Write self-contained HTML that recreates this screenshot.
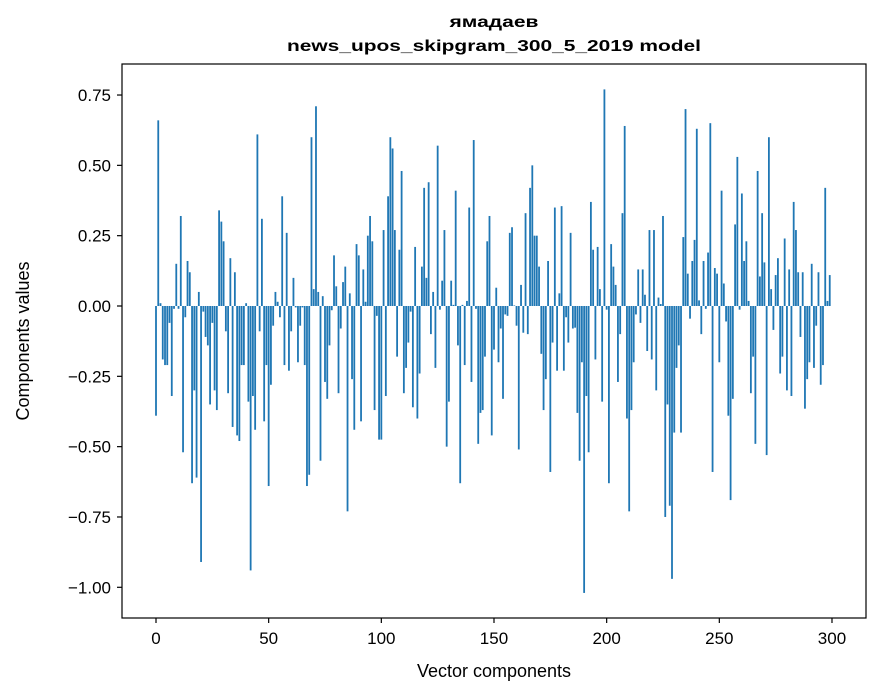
<!DOCTYPE html>
<html><head><meta charset="utf-8"><style>
html,body{margin:0;padding:0;background:#fff;}
svg{display:block;font-family:"Liberation Sans","DejaVu Sans",sans-serif;}
</style></head><body>
<svg id="chart" width="880" height="696" viewBox="0 0 880 696">
<g style="font-family:'Liberation Sans','DejaVu Sans',sans-serif">
<text x="494" y="27" text-anchor="middle" font-size="16" font-weight="bold" textLength="89" lengthAdjust="spacingAndGlyphs">ямадаев</text>
<text x="494" y="51" text-anchor="middle" font-size="16" font-weight="bold" textLength="414" lengthAdjust="spacingAndGlyphs">news_upos_skipgram_300_5_2019 model</text>
</g>
<g id="bars"></g>
<rect x="122" y="64" width="744" height="554" fill="none" stroke="#000" stroke-width="1.2"/>
<g id="xticks"></g>
<g id="yticks"></g>
<text x="494" y="677" text-anchor="middle" font-size="18">Vector components</text>
<text transform="translate(29,341) rotate(-90)" text-anchor="middle" font-size="18">Components values</text>
</svg>
<script>
const componentValues = [
-0.39,0.66,0.01,-0.19,-0.21,-0.21,-0.06,-0.32,-0.01,0.15,
-0.01,0.32,-0.52,-0.04,0.16,0.12,-0.63,-0.30,-0.61,0.05,
-0.91,-0.02,-0.11,-0.14,-0.35,-0.06,-0.30,-0.37,0.34,0.30,
0.23,-0.09,-0.31,0.17,-0.43,0.12,-0.46,-0.48,-0.21,-0.21,
0.01,-0.34,-0.94,-0.32,-0.44,0.61,-0.09,0.31,-0.41,-0.21,
-0.64,-0.28,-0.07,0.05,0.015,-0.04,0.39,-0.21,0.26,-0.23,
-0.09,0.10,-0.005,-0.20,-0.07,-0.005,-0.21,-0.64,-0.60,0.60,
0.06,0.71,0.05,-0.55,0.035,-0.27,-0.33,-0.14,-0.015,0.18,
0.07,-0.31,-0.08,0.085,0.14,-0.73,0.045,-0.26,-0.44,0.22,
0.18,-0.41,0.13,0.015,0.25,0.32,0.23,-0.37,-0.035,-0.475,
-0.475,0.27,-0.32,0.39,0.60,0.56,0.27,-0.18,0.20,0.48,
-0.31,-0.22,-0.13,-0.02,-0.36,0.21,-0.40,-0.24,0.14,0.42,
0.10,0.44,-0.10,0.05,-0.22,0.57,-0.013,0.09,0.27,-0.50,
-0.34,0.09,0.004,0.41,-0.14,-0.63,0.004,-0.21,0.018,0.35,
-0.27,0.59,-0.01,-0.49,-0.38,-0.37,-0.18,0.23,0.32,-0.46,
-0.155,0.065,-0.20,-0.08,-0.33,-0.03,-0.035,0.26,0.28,0.002,
-0.07,-0.51,0.075,-0.095,0.33,-0.10,0.42,0.50,0.25,0.25,
0.14,-0.17,-0.37,-0.26,0.16,-0.59,-0.13,0.35,-0.23,0.045,
0.355,-0.23,-0.04,-0.13,0.26,-0.08,-0.077,-0.38,-0.55,-0.20,
-1.02,-0.32,-0.52,0.37,0.20,-0.19,0.21,0.06,-0.34,0.77,
-0.013,-0.63,0.22,0.14,0.075,-0.27,-0.10,0.33,0.64,-0.40,
-0.73,-0.37,-0.20,-0.03,0.13,-0.06,0.13,0.04,-0.16,0.27,
-0.19,0.27,-0.30,0.03,0.007,0.32,-0.75,-0.35,-0.71,-0.97,
-0.45,-0.22,-0.14,-0.45,0.245,0.70,0.115,-0.045,0.16,0.235,
0.63,0.02,-0.10,0.16,-0.01,0.19,0.65,-0.59,0.135,0.115,
-0.20,0.41,0.08,-0.055,-0.39,-0.69,-0.33,0.29,0.53,-0.013,
0.40,0.16,0.23,0.018,-0.31,-0.18,-0.49,0.48,0.105,0.33,
0.155,-0.53,0.60,0.06,-0.085,0.11,0.17,-0.24,-0.18,0.24,
-0.30,0.13,-0.32,0.37,0.27,0.12,-0.11,0.12,-0.365,-0.26,
-0.20,0.15,-0.22,-0.07,0.12,-0.28,-0.21,0.42,0.018,0.11
];
const xTickValues = [0,50,100,150,200,250,300];
const yTickValues = [0.75,0.5,0.25,0,-0.25,-0.5,-0.75,-1.0];
const yTickLabels = ["0.75","0.50","0.25","0.00","\u22120.25","\u22120.50","\u22120.75","\u22121.00"];

const NS = "http://www.w3.org/2000/svg";
const xScale = v => 156 + v * 2.2533;
const yScale = v => 306 - v * 281.3;

const barsG = document.getElementById('bars');
componentValues.forEach((v, i) => {
  const r = document.createElementNS(NS, 'rect');
  const x0 = xScale(i - 0.4), x1 = xScale(i + 0.4);
  const y0 = yScale(Math.max(v, 0)), y1 = yScale(Math.min(v, 0));
  r.setAttribute('x', x0);
  r.setAttribute('width', x1 - x0);
  r.setAttribute('y', y0);
  r.setAttribute('height', Math.max(y1 - y0, 0.3));
  r.setAttribute('fill', '#1f77b4');
  
  
  barsG.appendChild(r);
});

const xg = document.getElementById('xticks');
xTickValues.forEach(t => {
  const x = xScale(t);
  const l = document.createElementNS(NS, 'line');
  l.setAttribute('x1', x); l.setAttribute('x2', x);
  l.setAttribute('y1', 618); l.setAttribute('y2', 623);
  l.setAttribute('stroke', '#000'); l.setAttribute('stroke-width', '1.2');
  
  
  xg.appendChild(l);
  const tx = document.createElementNS(NS, 'text');
  tx.setAttribute('x', x); tx.setAttribute('y', 644);
  tx.setAttribute('text-anchor', 'middle'); tx.setAttribute('font-size', '17');
  tx.textContent = String(t);
  
  
  xg.appendChild(tx);
});

const yg = document.getElementById('yticks');
yTickValues.forEach((t, k) => {
  const y = yScale(t);
  const l = document.createElementNS(NS, 'line');
  l.setAttribute('x1', 117); l.setAttribute('x2', 122);
  l.setAttribute('y1', y); l.setAttribute('y2', y);
  l.setAttribute('stroke', '#000'); l.setAttribute('stroke-width', '1.2');
  
  
  yg.appendChild(l);
  const tx = document.createElementNS(NS, 'text');
  tx.setAttribute('x', 111); tx.setAttribute('y', y + 6);
  tx.setAttribute('text-anchor', 'end'); tx.setAttribute('font-size', '17');
  tx.textContent = yTickLabels[k];
  
  
  yg.appendChild(tx);
});
</script>
</body></html>
